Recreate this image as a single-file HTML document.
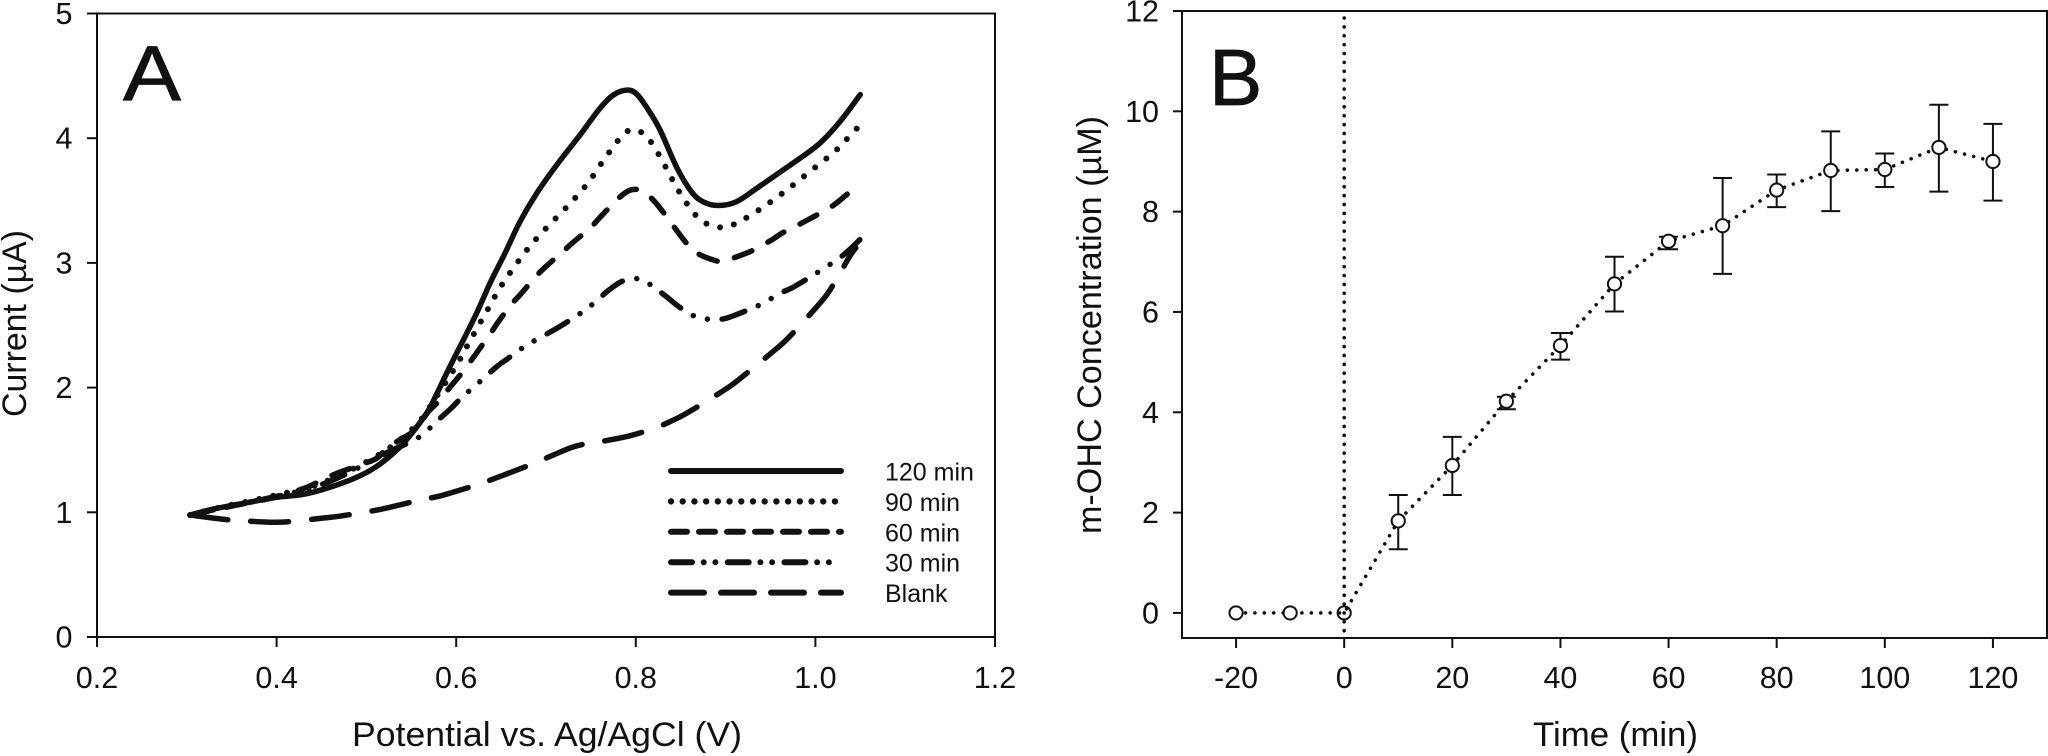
<!DOCTYPE html>
<html lang="en">
<head>
<meta charset="utf-8">
<title>Current and m-OHC concentration charts</title>
<style>
html,body{margin:0;padding:0;background:#fff;width:2048px;height:756px;overflow:hidden}
svg{display:block}
text{font-family:"Liberation Sans",Arial,sans-serif;fill:#111}
</style>
</head>
<body>
<svg id="fig" width="2048" height="756" viewBox="0 0 2048 756" xmlns="http://www.w3.org/2000/svg">
  <rect width="2048" height="756" fill="#fff"/>
  <g id="panelA"></g>
  <g id="panelB"></g>
</svg>
<script>
// ---- Panel A data ----
const aXTicks = [0.2, 0.4, 0.6, 0.8, 1.0, 1.2];
const aYTicks = [0, 1, 2, 3, 4, 5];
const aSeriesNames = ['120 min', '90 min', '60 min', '30 min', 'Blank'];
const e120 = [.3036,.3296,.367,.400,.430,.459,.489,.511,.534,.549,.567,.575,.593,.6209,.6376,.6543,.671,.6896,.7119,.7379,.7601,.7749,.7898,.801,.814,.827,.846,.862,.875,.892,.912,.935,.959,.983,1.005,1.027,1.050];
const i120 = [.978,1.026,1.077,1.12,1.144,1.20,1.28,1.366,1.50,1.62,1.794,1.90,2.168,2.569,2.836,3.077,3.33,3.558,3.785,4.026,4.24,4.346,4.386,4.354,4.226,4.066,3.76,3.57,3.49,3.46,3.49,3.60,3.72,3.84,3.96,4.13,4.35];
const e90 = [.3036,.337,.37,.407,.441,.471,.504,.53,.558,.58,.6016,.6154,.6365,.651,.6777,.6996,.7245,.7464,.7638,.7824,.7947,.808,.8188,.8333,.847,.8637,.8763,.8893,.902,.9153,.9414,.9676,.9933,1.0196,1.032,1.0437,1.048];
const i90 = [.978,1.04,1.09,1.15,1.21,1.30,1.42,1.54,1.72,1.95,2.195,2.376,2.644,2.826,3.095,3.274,3.459,3.638,3.82,4.00,4.068,4.039,3.95,3.769,3.587,3.408,3.325,3.288,3.293,3.33,3.445,3.582,3.729,3.881,3.97,4.06,4.09];
const e60 = [.3036,.3556,.393,.43,.463,.493,.5115,.5226,.537,.554,.569,.58,.595,.6035,.6184,.6259,.6395,.647,.6617,.671,.6878,.6989,.7186,.7297,.7498,.7601,.7787,.79,.799,.8083,.8194,.835,.8425,.8566,.8685,.8893,.8993,.9197,.9309,.9513,.9624,.9829,.9933,1.0134,1.0245,1.0441,1.047];
const i60 = [.978,1.058,1.112,1.19,1.30,1.38,1.433,1.513,1.58,1.66,1.807,1.887,2.02,2.093,2.235,2.31,2.448,2.529,2.67,2.743,2.884,2.964,3.09,3.162,3.285,3.365,3.504,3.571,3.59,3.571,3.504,3.365,3.29,3.157,3.077,3.017,3.017,3.069,3.103,3.184,3.237,3.312,3.352,3.432,3.486,3.606,3.63];
const e30 = [.3036,.337,.367,.407,.441,.471,.504,.526,.558,.582,.595,.607,.620,.645,.657,.670,.682,.710,.721,.734,.747,.760,.771,.784,.797,.808,.821,.834,.847,.860,.871,.886,.899,.910,.924,.937,.962,.974,.987,.9995,1.025,1.037,1.050];
const i30 = [.978,1.032,1.077,1.139,1.20,1.285,1.406,1.49,1.60,1.754,1.839,1.927,2.007,2.167,2.23,2.30,2.355,2.467,2.515,2.575,2.64,2.72,2.788,2.85,2.873,2.863,2.80,2.73,2.654,2.593,2.558,2.547,2.553,2.58,2.62,2.66,2.76,2.80,2.855,2.91,3.03,3.10,3.19];
const eBlank = [.3036,.3407,.359,.396,.415,.452,.471,.508,.526,.563,.582,.619,.636,.674,.688,.727,.747,.760,.786,.803,.825,.842,.858,.897,.914,.953,.970,1.003,1.016,1.038,1.045];
const iBlank = [.978,.944,.933,.920,.925,.954,.970,1.013,1.040,1.104,1.131,1.211,1.253,1.357,1.396,1.516,1.553,1.566,1.601,1.633,1.686,1.74,1.80,1.973,2.06,2.29,2.40,2.66,2.78,3.05,3.12];

// ---- Panel B data ----
const bXTicks = [-20, 0, 20, 40, 60, 80, 100, 120];
const bYTicks = [0, 2, 4, 6, 8, 10, 12];
const bTimes = [-20,-10,0,10,20,30,40,50,60,70,80,90,100,110,120];
const bMeans = [0,0,0,1.835,2.94,4.22,5.33,6.56,7.41,7.72,8.43,8.82,8.84,9.28,9.00];
const bUpper = [null,null,null,2.35,3.51,4.31,5.58,7.10,7.50,8.67,8.74,9.60,9.16,10.13,9.75];
const bLower = [null,null,null,1.27,2.35,4.06,5.05,6.01,7.25,6.76,8.09,8.01,8.49,8.40,8.22];

const NS = 'http://www.w3.org/2000/svg';
const INK = '#111';
function mk(parent, tag, attrs, txt) {
  const n = document.createElementNS(NS, tag);
  for (const k in attrs) n.setAttribute(k, attrs[k]);
  if (txt !== undefined) n.textContent = txt;
  parent.appendChild(n);
  return n;
}
function smooth(pts) {
  let d = 'M' + pts[0][0].toFixed(2) + ' ' + pts[0][1].toFixed(2);
  for (let i = 0; i < pts.length - 1; i++) {
    const p0 = pts[Math.max(0, i - 1)], p1 = pts[i], p2 = pts[i + 1], p3 = pts[Math.min(pts.length - 1, i + 2)];
    const c1x = p1[0] + (p2[0] - p0[0]) / 6, c1y = p1[1] + (p2[1] - p0[1]) / 6;
    const c2x = p2[0] - (p3[0] - p1[0]) / 6, c2y = p2[1] - (p3[1] - p1[1]) / 6;
    d += 'C' + c1x.toFixed(2) + ' ' + c1y.toFixed(2) + ' ' + c2x.toFixed(2) + ' ' + c2y.toFixed(2) + ' ' + p2[0].toFixed(2) + ' ' + p2[1].toFixed(2);
  }
  return d;
}

// ---- Panel A ----
const gA = document.getElementById('panelA');
const AL = 97, AR = 995, AT = 13.5, AB = 637;
const xA = v => AL + (v - 0.2) / 1.0 * (AR - AL);
const yA = v => AB - v / 5 * (AB - AT);

const frameA = mk(gA, 'rect', {x: AL, y: AT, width: AR - AL, height: AB - AT, fill: 'none', stroke: INK, 'stroke-width': 2});



aXTicks.forEach(v => {
  const t = mk(gA, 'line', {x1: xA(v), x2: xA(v), y1: AB, y2: AB + 10, stroke: INK, 'stroke-width': 2});
  
  
  const l = mk(gA, 'text', {x: xA(v), y: 688, 'text-anchor': 'middle', 'font-size': 30.5}, v.toFixed(1));
  
  
});
aYTicks.forEach(v => {
  const t = mk(gA, 'line', {x1: AL - 10, x2: AL, y1: yA(v), y2: yA(v), stroke: INK, 'stroke-width': 2});
  
  
  const l = mk(gA, 'text', {x: 72.5, y: yA(v) + 10.5, 'text-anchor': 'end', 'font-size': 30.5}, String(v));
  
  
});

const xTitleA = mk(gA, 'text', {x: 352, y: 746, 'font-size': 34.5, textLength: 390, lengthAdjust: 'spacingAndGlyphs'}, 'Potential vs. Ag/AgCl (V)');


const yTitleA = mk(gA, 'text', {transform: 'translate(26,417) rotate(-90)', 'font-size': 34.5, textLength: 187, lengthAdjust: 'spacingAndGlyphs'}, 'Current (\u00b5A)');


const letterA = mk(gA, 'text', {x: 123, y: 100, 'font-size': 78, textLength: 58, lengthAdjust: 'spacingAndGlyphs', stroke: INK, 'stroke-width': 0.8}, 'A');



const aCurveData = [[e120, i120], [e90, i90], [e60, i60], [e30, i30], [eBlank, iBlank]];
const aCurveDash = ['none', '0.01 14.2', '19 18', '24 14.7 0.01 14.7 0.01 14.7', '38 23'];
const aCurveWidth = [5.5, 6, 5.5, 5.5, 5.5];
aCurveData.forEach((s, k) => {
  const pts = s[0].map((e, i) => [xA(e), yA(s[1][i])]);
  const c = mk(gA, 'path', {d: smooth(pts), fill: 'none', stroke: INK, 'stroke-width': aCurveWidth[k], 'stroke-linecap': 'round', 'stroke-linejoin': 'round', 'stroke-dasharray': aCurveDash[k]});
  
  
});

const legendDash = ['none', '0.01 11.7', '16 12', '21 11.7 0.01 11.7 0.01 12.3', '33 17'];
const legendEnd = [841, 836, 841, 830, 841];
aSeriesNames.forEach((name, k) => {
  const y = 471 + k * 30.4;
  const s = mk(gA, 'line', {x1: 671, x2: legendEnd[k], y1: y, y2: y, stroke: INK, 'stroke-width': k === 1 ? 6.4 : 6, 'stroke-linecap': 'round', 'stroke-dasharray': legendDash[k]});
  
  
  const t = mk(gA, 'text', {x: 885, y: y + 9.5, 'font-size': 25}, name);
  
  
});

// ---- Panel B ----
const gB = document.getElementById('panelB');
const BL = 1182, BR = 2047, BT = 11, BB = 638;
const xB = v => BL + (v + 30) / 160 * (BR - BL);
const yB = v => BB - (v + 0.5) / 12.5 * (BB - BT);

const frameB = mk(gB, 'rect', {x: BL, y: BT, width: BR - BL, height: BB - BT, fill: 'none', stroke: INK, 'stroke-width': 2});



bXTicks.forEach(v => {
  const t = mk(gB, 'line', {x1: xB(v), x2: xB(v), y1: BB, y2: BB + 10, stroke: INK, 'stroke-width': 2});
  
  
  const l = mk(gB, 'text', {x: xB(v), y: 688, 'text-anchor': 'middle', 'font-size': 30.5}, String(v));
  
  
});
bYTicks.forEach(v => {
  const t = mk(gB, 'line', {x1: BL - 9, x2: BL, y1: yB(v), y2: yB(v), stroke: INK, 'stroke-width': 2});
  
  
  const l = mk(gB, 'text', {x: 1159, y: yB(v) + 10.5, 'text-anchor': 'end', 'font-size': 30.5}, String(v));
  
  
});

const xTitleB = mk(gB, 'text', {x: 1533, y: 746, 'font-size': 34, textLength: 165, lengthAdjust: 'spacingAndGlyphs'}, 'Time (min)');


const yTitleB = mk(gB, 'text', {transform: 'translate(1101,534) rotate(-90)', 'font-size': 34, textLength: 418, lengthAdjust: 'spacingAndGlyphs'}, 'm-OHC Concentration (\u00b5M)');


const letterB = mk(gB, 'text', {x: 1209, y: 105, 'font-size': 80, stroke: INK, 'stroke-width': 0.8}, 'B');



const zeroLine = mk(gB, 'line', {x1: xB(0), x2: xB(0), y1: 18, y2: 632, stroke: INK, 'stroke-width': 3.6, 'stroke-linecap': 'round', 'stroke-dasharray': '0.01 8.87'});



const trend = mk(gB, 'polyline', {points: bTimes.map((t, i) => xB(t).toFixed(2) + ',' + yB(bMeans[i]).toFixed(2)).join(' '), fill: 'none', stroke: INK, 'stroke-width': 3.6, 'stroke-linecap': 'round', 'stroke-dasharray': '0.01 9.4'});



bTimes.forEach((t, i) => {
  if (bUpper[i] !== null) {
    const x = xB(t);
    const stem = mk(gB, 'line', {x1: x, x2: x, y1: yB(bUpper[i]), y2: yB(bLower[i]), stroke: INK, 'stroke-width': 2});
    
    
    const capTop = mk(gB, 'line', {x1: x - 9.5, x2: x + 9.5, y1: yB(bUpper[i]), y2: yB(bUpper[i]), stroke: INK, 'stroke-width': 2});
    
    
    const capLow = mk(gB, 'line', {x1: x - 9.5, x2: x + 9.5, y1: yB(bLower[i]), y2: yB(bLower[i]), stroke: INK, 'stroke-width': 2});
    
    
  }
});
bTimes.forEach((t, i) => {
  const p = mk(gB, 'circle', {cx: xB(t), cy: yB(bMeans[i]), r: 6.6, fill: t === 0 ? 'none' : '#fff', stroke: INK, 'stroke-width': 2});
  
  
});
</script>
</body>
</html>
